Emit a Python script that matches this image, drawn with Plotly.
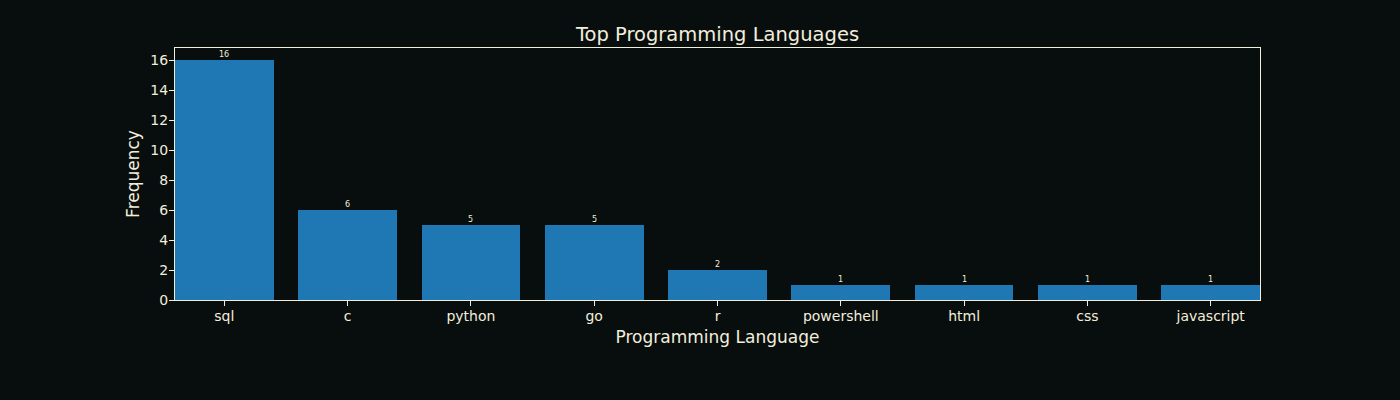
import plotly.graph_objects as go

languages = ["sql", "c", "python", "go", "r", "powershell", "html", "css", "javascript"]
counts = [16, 6, 5, 5, 2, 1, 1, 1, 1]

BG = "#080d0d"
FG = "#f2eedc"
BAR = "#1f77b4"
FONT = "DejaVu Sans"

xs = list(range(len(languages)))

fig = go.Figure(go.Bar(
    x=xs,
    y=counts,
    width=0.8,
    marker=dict(color=BAR, line=dict(width=0)),
    hoverinfo="x+y",
))

for x, c in zip(xs, counts):
    fig.add_annotation(
        x=x, y=c, text=str(c), showarrow=False, yanchor="bottom",
        font=dict(size=8, color=FG, family=FONT), borderpad=0, yshift=0,
    )

fig.update_layout(
    width=1400, height=400,
    paper_bgcolor=BG, plot_bgcolor=BG,
    margin=dict(l=175, r=140, t=48, b=100),
    font=dict(family=FONT, color=FG, size=14),
    title=dict(text="Top Programming Languages", x=(175 + 1260) / 2 / 1400, xanchor="center",
               y=1 - 34 / 400, yanchor="middle", font=dict(size=19.5, color=FG, family=FONT)),
    showlegend=False,
    bargap=0,
)
fig.update_xaxes(
    tickmode="array", tickvals=xs, ticktext=languages,
    range=[-0.4, 8.4], showgrid=False, zeroline=False,
    showline=True, linecolor=FG, linewidth=1.2, mirror=True,
    ticks="outside", ticklen=5, tickcolor=FG, tickwidth=1,
    ticklabelstandoff=-2,
    tickfont=dict(size=14, color=FG),
    title=dict(text="Programming Language", font=dict(size=17, color=FG), standoff=8),
)
fig.update_yaxes(
    range=[0, 16.8], tickvals=[0, 2, 4, 6, 8, 10, 12, 14, 16],
    showgrid=False, zeroline=False,
    showline=True, linecolor=FG, linewidth=1.2, mirror=True,
    ticks="outside", ticklen=5, tickcolor=FG, tickwidth=1,
    ticklabelstandoff=-2,
    tickfont=dict(size=14, color=FG),
    title=dict(text="Frequency", font=dict(size=17, color=FG), standoff=6),
)

fig.write_html(
    "out.html",
    config={"displayModeBar": False},
    post_script="document.body.style.margin='0';document.body.style.background='#080d0d';",
)
